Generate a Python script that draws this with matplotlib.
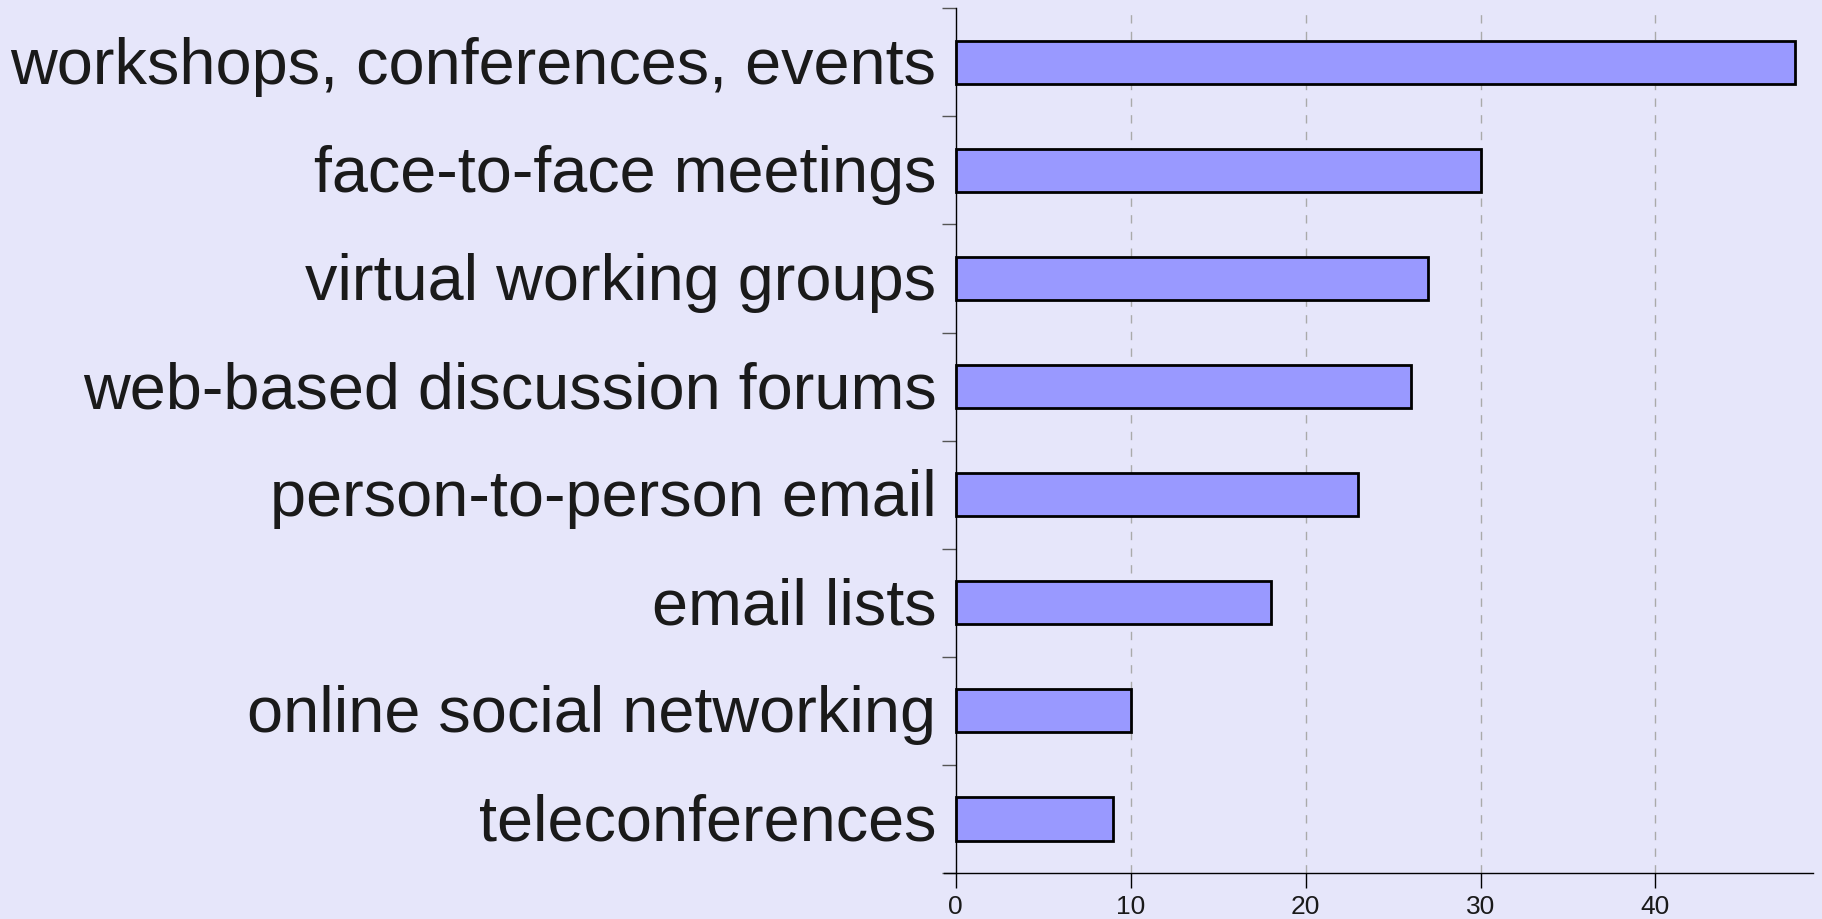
import matplotlib.pyplot as plt
import matplotlib.transforms as mtransforms
import numpy as np

# categories bottom-to-top
categorias = ['teleconferences', 'online social networking', 'email lists',
              'person-to-person email', 'web-based discussion forums',
              'virtual working groups', 'face-to-face meetings',
              'workshops, conferences, events']
valores = [9, 10, 18, 23, 26, 27, 30, 48]
xticks = [0, 10, 20, 30, 40]

fundo = '#e6e6fa'
plt.rcParams['font.family'] = ['Liberation Sans', 'DejaVu Sans']

fig = plt.figure(figsize=(18.22, 9.2), dpi=100, facecolor=fundo)
ax = fig.add_axes([0.5183, 0.050, 0.4767, 0.940])
ax.set_facecolor(fundo)

y = np.arange(len(categorias)) + 0.5
ax.barh(y, valores, height=0.4, color='#9999ff', edgecolor='black', linewidth=2, zorder=3)

ax.set_xlim(-0.65, 49)
ax.set_ylim(0, len(categorias))

# grade tracejada vertical
for xt in xticks[1:]:
    ax.axvline(xt, color='#aaaaaa', linestyle=(0, (6, 6)), linewidth=1, zorder=1)

ax.spines['top'].set_visible(False)
ax.spines['right'].set_visible(False)
ax.spines['left'].set_position(('data', 0))
ax.spines['left'].set_linewidth(1)
ax.spines['bottom'].set_linewidth(1)

ax.set_xticks(xticks)
ax.set_xticklabels([str(v) for v in xticks], fontsize=19, color='#1a1a1a')
ax.tick_params(axis='x', length=11, width=1, pad=4)

ax.set_yticks(np.arange(len(categorias) + 1))
ax.set_yticklabels([])
ax.tick_params(axis='y', length=10, width=1, color='#555555')

# rotulos um pouco abaixo do centro da barra
desloca = mtransforms.offset_copy(ax.transData, fig=fig, x=0, y=-3.5, units='dots')
for yi, nome in zip(y, categorias):
    ax.text(-1.1, yi, nome, ha='right', va='center', fontsize=46.6,
            color='#1a1a1a', transform=desloca)

fig.savefig('out.png', dpi=100, facecolor=fundo)
